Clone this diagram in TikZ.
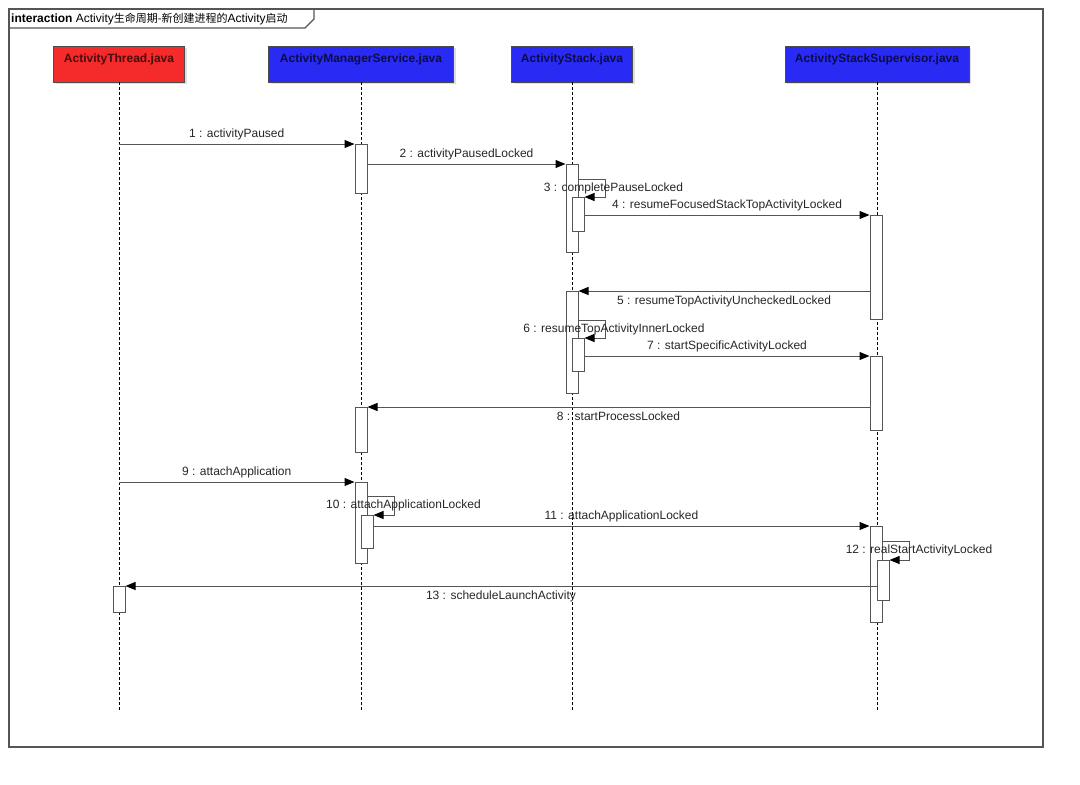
\documentclass[tikz,border=0pt]{standalone}
\usepackage{fontspec}
\setmainfont{Liberation Sans}
\newfontfamily\cjk{Noto Sans CJK SC}
\usetikzlibrary{arrows.meta,shadows}
\definecolor{headred}{RGB}{245,42,42}
\definecolor{headblue}{RGB}{42,42,245}
\definecolor{linegray}{RGB}{85,85,85}

\begin{document}
\begin{tikzpicture}[x=1pt,y=-1pt,
  head/.style={draw=black!70, minimum height=36pt, inner xsep=2pt, inner ysep=3pt,
    text height=13pt, text depth=17pt, font=\fontsize{12}{14}\selectfont\bfseries,
    drop shadow={shadow xshift=2pt,shadow yshift=-2pt,fill=black!25,opacity=.5}},
  life/.style={dash pattern=on 3pt off 2pt, line width=.8pt},
  act/.style={draw=linegray, fill=white, line width=1pt, minimum width=12pt, inner sep=0pt},
  msg/.style={draw=linegray, line width=1pt, -{Triangle[length=10pt,width=8pt,color=black]}},
  lab/.style={inner sep=0pt, text height=9pt, text depth=0pt,
    font=\fontsize{12}{14}\selectfont, text=black!85},
]
\useasboundingbox (0,0) rectangle (1080,785);

% frame and title tab
\draw[linegray, line width=1.2pt] (9,9) rectangle (1043,747);
\draw[linegray, line width=1.2pt] (9,28) -- (305,28) -- (314,19) -- (314,9);
\node[anchor=base west, inner sep=0pt, font=\fontsize{12}{14}\selectfont] (title) at (11,22)
  {\textbf{interaction} Activity{\cjk\fontsize{11}{13}\selectfont 生命周期-新创建进程的}Activity{\cjk\fontsize{11}{13}\selectfont 启动}};

% lifelines
\foreach \name/\x/\w/\col/\txt in {at/119/131/headred/ActivityThread.java,
  ams/361/185/headblue/ActivityManagerService.java,
  as/572/121/headblue/ActivityStack.java,
  ass/877/184/headblue/ActivityStackSupervisor.java}
{
  \node[head, fill=\col, text=black!70!\col, minimum width=\w pt] (\name) at (\x,64) {\txt};
  \coordinate (\name end) at (\x,712);
  \draw[life] (\name) -- (\name end);
}

% activations
\foreach \name/\x/\top/\h in {ams1/361/144/49, as1/572/164/88, as2/578/197/34,
  ass1/876/215/104, as3/572/291/102, as4/578/338/33, ass2/876/356/74,
  ams2/361/407/45, ams3/361/482/81, ams4/367/515/33, ass3/876/526/96,
  ass4/883/560/40, at1/119/586/26}
  \node[act, anchor=north, minimum height=\h pt] (\name) at (\x,\top) {};

% messages
\coordinate (m1) at (119,144);
\draw[msg] (m1) -- node[lab, above=6pt] {1 : activityPaused} (ams1.north west);
\draw[msg] ([yshift=-20pt]ams1.north east) -- node[lab, above=6pt] {2 : activityPausedLocked} (as1.north west);
\draw[msg] ([yshift=-15pt]as1.north east) -- ++(27,0)
  |- node[lab, pos=.25, xshift=8pt, yshift=1.5pt] {3 : completePauseLocked} (as2.north east);
\draw[msg] (as2.east |- ass1.north) -- node[lab, above=6pt] {4 : resumeFocusedStackTopActivityLocked} (ass1.north west);
\draw[msg] (ass1.west |- as3.north) -- node[lab, below=4pt] {5 : resumeTopActivityUncheckedLocked} (as3.north east);
\draw[msg] ([yshift=-29pt]as3.north east) -- ++(27,0)
  |- node[lab, pos=.25, xshift=8.5pt, yshift=1.5pt] {6 : resumeTopActivityInnerLocked} (as4.north east);
\draw[msg] (as4.east |- ass2.north) -- node[lab, above=6pt] {7 : startSpecificActivityLocked} (ass2.north west);
\draw[msg] (ass2.west |- ams2.north) -- node[lab, below=4pt] {8 : startProcessLocked} (ams2.north east);
\coordinate (m9) at (119,482);
\draw[msg] (m9) -- node[lab, above=6pt] {9 : attachApplication} (ams3.north west);
\draw[msg] ([yshift=-14pt]ams3.north east) -- ++(27,0)
  |- node[lab, pos=.25, xshift=9pt, yshift=1.5pt] {10 : attachApplicationLocked} (ams4.north east);
\draw[msg] (ams4.east |- ass3.north) -- node[lab, above=6pt] {11 : attachApplicationLocked} (ass3.north west);
\draw[msg] ([yshift=-15pt]ass3.north east) -- ++(27,0)
  |- node[lab, pos=.25, xshift=9.5pt, yshift=1.5pt] {12 : realStartActivityLocked} (ass4.north east);
\draw[msg] (ass4.west |- at1.north) -- node[lab, below=4pt] {13 : scheduleLaunchActivity} (at1.north east);
\end{tikzpicture}
\end{document}
